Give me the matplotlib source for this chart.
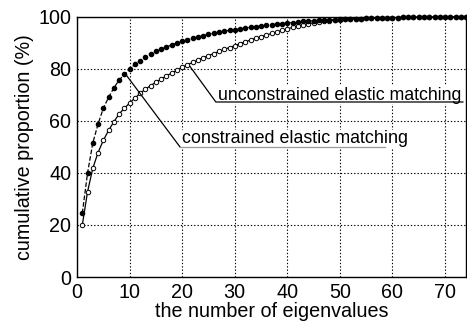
import matplotlib
matplotlib.use("Agg")
import matplotlib.pyplot as plt
import numpy as np

plt.rcParams['font.family'] = ['Liberation Sans', 'DejaVu Sans']

n_eigen = list(range(1, 75))
unconstrained = [24.5, 40.0, 51.5, 58.8, 64.8, 69.0, 72.6, 75.6, 77.8, 79.8,
                 81.6, 83.1, 84.4, 85.6, 86.6, 87.5, 88.3, 89.1, 89.8, 90.5,
                 91.1, 91.7, 92.2, 92.7, 93.2, 93.6, 94.0, 94.4, 94.7, 95.0,
                 95.3, 95.6, 95.9, 96.1, 96.4, 96.6, 96.9, 97.1, 97.3, 97.5,
                 97.7, 97.9, 98.1, 98.2, 98.4, 98.5, 98.6, 98.7, 98.8, 98.9,
                 99.0, 99.1, 99.15, 99.2, 99.3, 99.35, 99.4, 99.45, 99.5, 99.55,
                 99.6, 99.65, 99.7, 99.72, 99.75, 99.78, 99.8, 99.83, 99.86, 99.88,
                 99.9, 99.93, 99.96, 100.0]
constrained = [20.0, 32.8, 41.8, 47.8, 52.5, 56.3, 59.6, 62.6, 64.8, 66.8,
               68.7, 70.5, 72.1, 73.5, 74.8, 76.0, 77.2, 78.3, 79.4, 80.5,
               81.5, 82.4, 83.3, 84.2, 85.0, 85.8, 86.6, 87.4, 88.1, 88.8,
               89.6, 90.3, 91.0, 91.7, 92.3, 92.9, 93.5, 94.1, 94.7, 95.3,
               95.8, 96.3, 96.8, 97.2, 97.6, 97.9, 98.2, 98.4, 98.6, 98.8,
               98.95, 99.05, 99.15, 99.2, 99.3, 99.35, 99.4, 99.45, 99.5, 99.55,
               99.6, 99.65, 99.7, 99.72, 99.75, 99.78, 99.8, 99.83, 99.86, 99.88,
               99.9, 99.93, 99.96, 100.0]

x_ticks = [0, 10, 20, 30, 40, 50, 60, 70]
y_ticks = [0, 20, 40, 60, 80, 100]

fig = plt.figure(figsize=(4.67, 3.31), dpi=100)
ax = fig.add_axes([0.165, 0.163, 0.833, 0.787])

ax.plot(n_eigen, constrained, linestyle='-', color='black', linewidth=0.9,
        marker='o', markersize=3.2, markerfacecolor='white', markeredgecolor='black',
        markeredgewidth=0.7, clip_on=False, zorder=3)
ax.plot(n_eigen, unconstrained, linestyle='--', color='black', linewidth=0.9,
        marker='o', markersize=3.0, markerfacecolor='black', markeredgecolor='black',
        clip_on=False, zorder=3.5)

ax.set_xlim(0, 74)
ax.set_ylim(0, 100)
ax.set_xticks(x_ticks)
ax.set_yticks(y_ticks)
ax.tick_params(direction='in', length=0, labelsize=14.2, pad=4)
ax.grid(True, linestyle=(0, (1.2, 1.8)), color='black', linewidth=0.8)
for s in ax.spines.values():
    s.set_linewidth(1.0)

ax.set_xlabel('the number of eigenvalues', fontsize=14.2, labelpad=0)
ax.set_ylabel('cumulative proportion (%)', fontsize=14.2, labelpad=3)

# annotation 1
ax.text(26.8, 68.1, 'unconstrained elastic matching', fontsize=12.8, ha='left', va='baseline',
        zorder=5, bbox=dict(facecolor='white', edgecolor='none', pad=0.3))
ax.plot([21.5, 26.4, 73.4], [80.8, 67.2, 67.2], color='black', linewidth=0.9, zorder=6)
# annotation 2
ax.text(19.9, 51.3, 'constrained elastic matching', fontsize=12.9, ha='left', va='baseline',
        zorder=5, bbox=dict(facecolor='white', edgecolor='none', pad=0.3))
ax.plot([9.3, 19.6], [77.7, 49.9], color='black', linewidth=0.9, zorder=6)
ax.plot([19.6, 58.6], [49.9, 49.9], color='#999999', linewidth=0.9, zorder=6)

fig.savefig('out.png', dpi=100)
